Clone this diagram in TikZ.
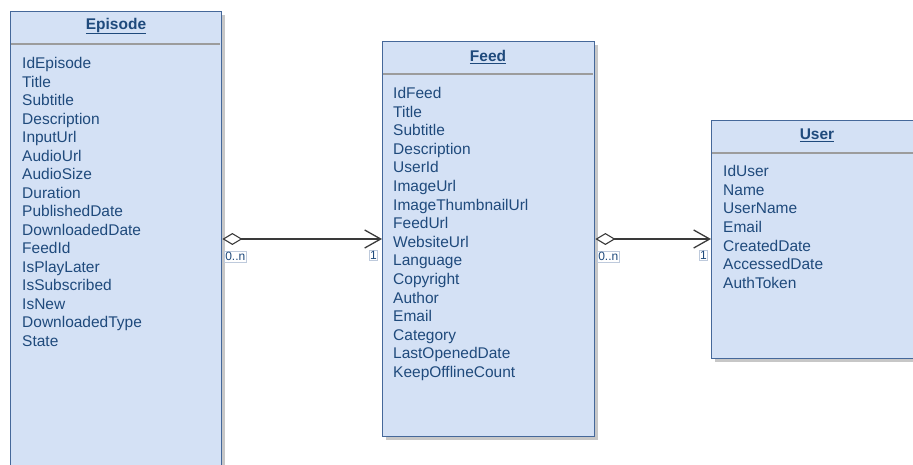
\documentclass[tikz,border=0pt]{standalone}
\usepackage{fontspec}
\setmainfont{Liberation Sans}
\usetikzlibrary{arrows.meta,shadows}
\definecolor{boxfill}{HTML}{D4E1F5}
\definecolor{boxline}{HTML}{45689A}
\definecolor{txt}{HTML}{1F4A7C}
\definecolor{sepline}{HTML}{9C9C9C}
\definecolor{conn}{HTML}{3A3A3A}
\tikzset{
  umlbox/.style={draw=boxline, fill=boxfill, line width=1.4pt, inner sep=0pt,
    anchor=north west, rectangle,
    drop shadow={shadow xshift=3pt, shadow yshift=-3pt, fill=black!22, opacity=1}},
  umltitle/.style={text=txt, font=\fontsize{15.5}{18.6}\selectfont\bfseries, inner sep=0pt},
  umlrow/.style={text=txt, font=\fontsize{15.5}{18.6}\selectfont, inner sep=0pt, anchor=base west},
  sep/.style={draw=sepline, line width=1.2pt},
  assoc/.style={draw=conn, line width=1.3pt,
    {Diamond[fill=white, length=20pt, width=12pt, line width=1.1pt]}-{Straight Barb[length=16pt, width=18pt, line width=1.3pt]}},
  mult/.style={text=txt, font=\fontsize{12}{14}\selectfont, draw=boxline!35, line width=0.6pt,
    fill=white, inner xsep=1pt, inner ysep=1pt}
}
\begin{document}
\begin{tikzpicture}[x=1pt, y=-1pt]
\useasboundingbox (0,0) rectangle (913,464);

% Episode class
\node[umlbox, minimum width=211pt, minimum height=470pt] (episode) at (10,11) {};
\draw[sep] (11,44) -- (220,44);
\node[umltitle] (episodeT) at (116,26) {\underline{Episode}};
\foreach \r [count=\i from 0] in {IdEpisode,Title,Subtitle,Description,InputUrl,AudioUrl,AudioSize,Duration,PublishedDate,DownloadedDate,FeedId,IsPlayLater,IsSubscribed,IsNew,DownloadedType,State}
  \node[umlrow] (ep\i) at (22,{68.5+18.53*\i}) {\r};

% Feed class
\node[umlbox, minimum width=212pt, minimum height=395pt] (feed) at (382,41) {};
\draw[sep] (383,74) -- (593,74);
\node[umltitle] (feedT) at (488,57) {\underline{Feed}};
\foreach \r [count=\i from 0] in {IdFeed,Title,Subtitle,Description,UserId,ImageUrl,ImageThumbnailUrl,FeedUrl,WebsiteUrl,Language,Copyright,Author,Email,Category,LastOpenedDate,KeepOfflineCount}
  \node[umlrow] (fd\i) at (393,{98.5+18.6*\i}) {\r};

% User class
\node[umlbox, minimum width=212pt, minimum height=238pt] (user) at (711,120) {};
\draw[sep] (712,153) -- (922,153);
\node[umltitle] (userT) at (817,135) {\underline{User}};
\foreach \r [count=\i from 0] in {IdUser,Name,UserName,Email,CreatedDate,AccessedDate,AuthToken}
  \node[umlrow] (us\i) at (723,{176.5+18.67*\i}) {\r};

% Associations
\coordinate (lvl) at (0,239);
\draw[assoc] (episode.east |- lvl) -- (feed.west |- lvl);
\draw[assoc] (feed.east |- lvl) -- (user.west |- lvl);

% Multiplicities
\node[mult, anchor=north west] (m1) at (224,251) {0..n};
\node[mult, anchor=north east] (m2) at (378,250) {1};
\node[mult, anchor=north west] (m3) at (597,251) {0..n};
\node[mult, anchor=north east] (m4) at (708,250) {1};
\end{tikzpicture}
\end{document}
